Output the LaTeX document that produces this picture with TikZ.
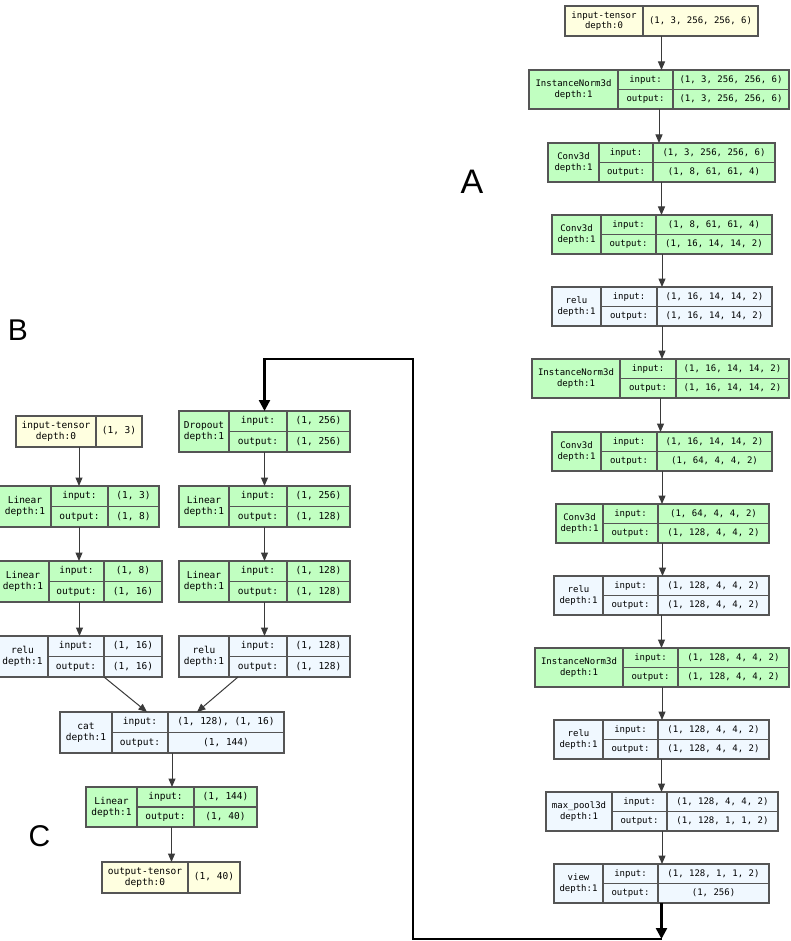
\documentclass[tikz,border=0pt]{standalone}
\usepackage{fontspec}
\setmonofont{DejaVu Sans Mono}
\newfontfamily\lblfont{Liberation Sans}
\usetikzlibrary{arrows.meta,fit,calc}
\definecolor{modc}{HTML}{C1FFC1}
\definecolor{func}{HTML}{F0F8FF}
\definecolor{tens}{HTML}{FFFFE0}
\definecolor{bordc}{HTML}{555555}
\definecolor{arrc}{HTML}{3A3A3A}

\newcommand\LBfont{\ttfamily\fontsize{9}{10.8}\selectfont}

\newcommand\lbox[8]{\def\LBn{#1}\def\LBf{#2}\def\LBxi{#3}\def\LBxa{#4}\def\LBxb{#5}\def\LBxii{#6}\def\LByt{#7}\def\LByb{#8}\LBrest}
\newcommand\LBrest[3]{%
  \pgfmathsetmacro\LBym{(\LByt+\LByb)/2}%
  \node[box, fill=\LBf, fit={(\LBxi,\LByt) (\LBxii,\LByb)}] (\LBn) {};
  \draw[sep] (\LBxa,\LByt) -- (\LBxa,\LByb) (\LBxb,\LByt) -- (\LBxb,\LByb) (\LBxa,\LBym) -- (\LBxii,\LBym);
  \node[ttl] (\LBn-t) at ({(\LBxi+\LBxa)/2},\LBym) {#1\\depth:1};
  \node[txt] (\LBn-il) at ({(\LBxa+\LBxb)/2},{(\LByt+\LBym)/2}) {input:};
  \node[txt] (\LBn-ol) at ({(\LBxa+\LBxb)/2},{(\LBym+\LByb)/2}) {output:};
  \node[txt] (\LBn-iv) at ({(\LBxb+\LBxii)/2},{(\LByt+\LBym)/2}) {#2};
  \node[txt] (\LBn-ov) at ({(\LBxb+\LBxii)/2},{(\LBym+\LByb)/2}) {#3};
}
\newcommand\tbox[8]{%
  \pgfmathsetmacro\LBym{(#5+#6)/2}%
  \node[box, fill=tens, fit={(#2,#5) (#4,#6)}] (#1) {};
  \draw[sep] (#3,#5) -- (#3,#6);
  \node[ttl] (#1-t) at ({(#2+#3)/2},\LBym) {#7\\depth:0};
  \node[txt] (#1-v) at ({(#3+#4)/2},\LBym) {#8};
}

\tikzset{
  box/.style={draw=bordc, line width=1.1pt, inner sep=0pt, outer sep=0pt},
  sep/.style={draw=bordc, line width=1.1pt},
  txt/.style={font=\LBfont, inner sep=0pt, text height=6.6pt, text depth=1.8pt, text=black},
  ttl/.style={font=\LBfont, inner sep=0pt, align=center, text=black},
  arr/.style={draw=arrc, line width=1pt, -{Triangle[width=7pt,length=8.5pt]}},
  bigarr/.style={draw=black, line width=2.4pt, -{Triangle[width=11pt,length=11pt]}},
  lbl/.style={font=\lblfont, inner sep=0pt, text=black}
}

\begin{document}
\begin{tikzpicture}[x=1pt,y=-1pt]
\useasboundingbox (0,0) rectangle (790,941);
\clip (0,0) rectangle (790,941);
\fill[white] (0,0) rectangle (790,941);

% ---------- Column A ----------
\tbox{inA}{565}{643}{758}{6}{36}{input-tensor}{(1, 3, 256, 256, 6)}
\lbox{in1}{modc}{529}{618}{673}{789}{70}{109}{InstanceNorm3d}{(1, 3, 256, 256, 6)}{(1, 3, 256, 256, 6)}
\lbox{conv1}{modc}{548}{599}{653}{775}{143}{182}{Conv3d}{(1, 3, 256, 256, 6)}{(1, 8, 61, 61, 4)}
\lbox{conv2}{modc}{552}{601}{656}{772}{215}{254}{Conv3d}{(1, 8, 61, 61, 4)}{(1, 16, 14, 14, 2)}
\lbox{relu1}{func}{552}{601}{657}{772}{287}{326}{relu}{(1, 16, 14, 14, 2)}{(1, 16, 14, 14, 2)}
\lbox{in2}{modc}{532}{620}{676}{789}{359}{398}{InstanceNorm3d}{(1, 16, 14, 14, 2)}{(1, 16, 14, 14, 2)}
\lbox{conv3}{modc}{552}{601}{657}{772}{432}{471}{Conv3d}{(1, 16, 14, 14, 2)}{(1, 64, 4, 4, 2)}
\lbox{conv4}{modc}{556}{603}{658}{769}{504}{543}{Conv3d}{(1, 64, 4, 4, 2)}{(1, 128, 4, 4, 2)}
\lbox{relu2}{func}{554}{603}{658}{769}{576}{615}{relu}{(1, 128, 4, 4, 2)}{(1, 128, 4, 4, 2)}
\lbox{in3}{modc}{535}{623}{678}{789}{648}{687}{InstanceNorm3d}{(1, 128, 4, 4, 2)}{(1, 128, 4, 4, 2)}
\lbox{relu3}{func}{554}{603}{658}{769}{720}{759}{relu}{(1, 128, 4, 4, 2)}{(1, 128, 4, 4, 2)}
\lbox{pool}{func}{546}{612}{667}{778}{792}{831}{max\_pool3d}{(1, 128, 4, 4, 2)}{(1, 128, 1, 1, 2)}
\lbox{view}{func}{554}{603}{658}{769}{864}{903}{view}{(1, 128, 1, 1, 2)}{(1, 256)}

\foreach \a/\b in {inA/in1,in1/conv1,conv1/conv2,conv2/relu1,relu1/in2,in2/conv3,conv3/conv4,conv4/relu2,relu2/in3,in3/relu3,relu3/pool,pool/view}
  \draw[arr] (\a.south) -- (\a.south |- \b.north);

% ---------- Column B ----------
\renewcommand\LBfont{\ttfamily\fontsize{9.5}{11.2}\selectfont}
\tbox{inB}{16}{96}{142}{416}{447}{input-tensor}{(1, 3)}
\lbox{linL1}{modc}{-1}{51}{108}{159}{486}{527}{Linear}{(1, 3)}{(1, 8)}
\lbox{linL2}{modc}{-3}{49}{104}{162}{561}{602}{Linear}{(1, 8)}{(1, 16)}
\lbox{reluL}{func}{-3}{48}{104}{162}{636}{677}{relu}{(1, 16)}{(1, 16)}
\lbox{drop}{modc}{179}{229}{287}{350}{411}{452}{Dropout}{(1, 256)}{(1, 256)}
\lbox{linR1}{modc}{179}{229}{287}{350}{486}{527}{Linear}{(1, 256)}{(1, 128)}
\lbox{linR2}{modc}{179}{229}{287}{350}{561}{602}{Linear}{(1, 128)}{(1, 128)}
\lbox{reluR}{func}{179}{229}{287}{350}{636}{677}{relu}{(1, 128)}{(1, 128)}
\lbox{cat}{func}{60}{112}{168}{284}{712}{753}{cat}{(1, 128), (1, 16)}{(1, 144)}
\lbox{linF}{modc}{86}{137}{194}{257}{787}{827}{Linear}{(1, 144)}{(1, 40)}
\tbox{outT}{102}{188}{240}{862}{893}{output-tensor}{(1, 40)}

\foreach \a/\b in {inB/linL1,linL1/linL2,linL2/reluL,drop/linR1,linR1/linR2,linR2/reluR,cat/linF,linF/outT}
  \draw[arr] (\a.south) -- (\a.south |- \b.north);
\draw[arr] ([xshift=24.5pt]reluL.south) -- ([xshift=-25pt]cat.north);
\draw[arr] ([xshift=-26.5pt]reluR.south) -- ([xshift=25pt]cat.north);

% ---------- thick connector ----------
\coordinate (jA) at (661.5,939);
\coordinate (j1) at (413,939);
\coordinate (j2) at (413,359);
\draw[bigarr] (view.south) -- (jA);
\draw[bigarr] (jA) -- (j1) -- (j2) -| (drop.north);

% ---------- labels ----------
\node[lbl, font=\lblfont\fontsize{34}{40}\selectfont] (labA) at (472,182) {A};
\node[lbl, font=\lblfont\fontsize{30}{36}\selectfont] (labB) at (18,330) {B};
\node[lbl, font=\lblfont\fontsize{30}{36}\selectfont] (labC) at (39.5,836) {C};
\end{tikzpicture}
\end{document}
